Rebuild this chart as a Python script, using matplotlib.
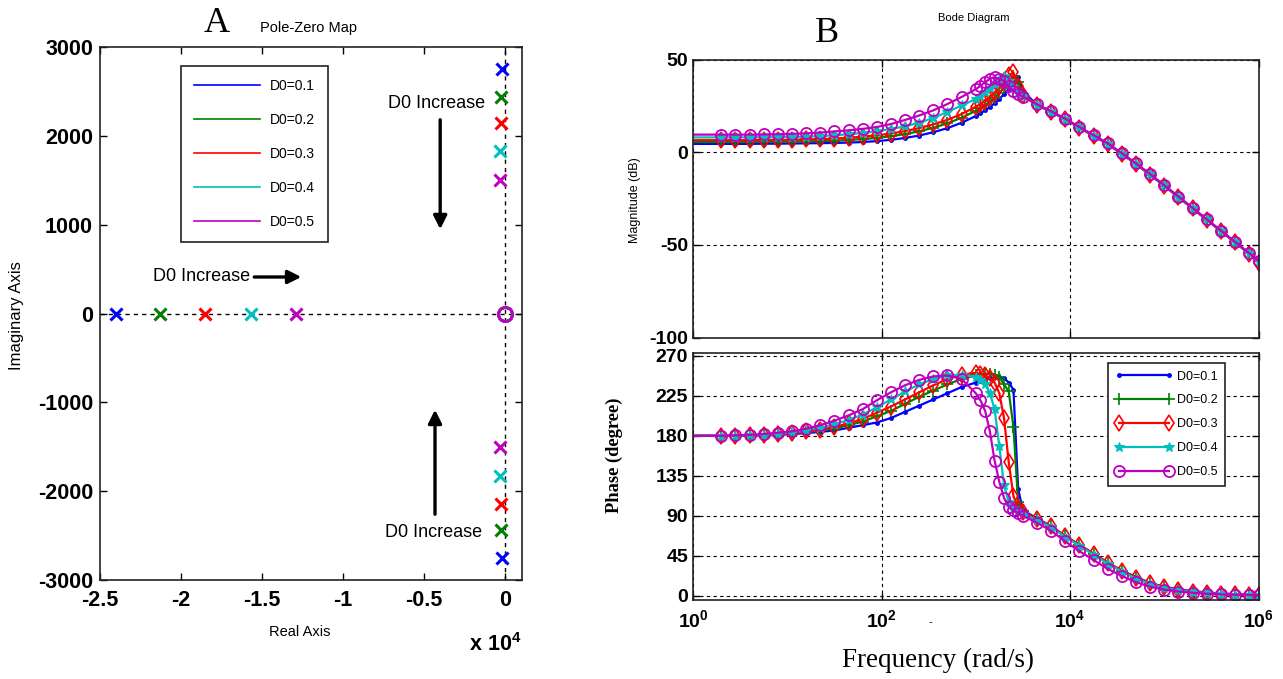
import numpy as np
import matplotlib
matplotlib.use("Agg")
import matplotlib.pyplot as plt
from matplotlib.lines import Line2D
from matplotlib.ticker import NullLocator

W, H = 1283, 679

# ---- series shared by both panels ----
d0_labels = ["D0=0.1", "D0=0.2", "D0=0.3", "D0=0.4", "D0=0.5"]
colors = ["#0000ff", "#008000", "#ff0000", "#00bfbf", "#bf00bf"]

# ---- pole-zero map (real axis in rad/s) ----
real_poles = [-24000, -21300, -18500, -15700, -12900]
cplx_re = [-200, -230, -260, -290, -320]
cplx_im = [2750, 2440, 2140, 1830, 1500]
zeros_re = [0, 0, 0, 0, 0]

# ---- bode data, frequency given as log10(w) ----
w_log = [0.0, 0.3, 0.45, 0.6, 0.75, 0.9, 1.05, 1.2, 1.35, 1.5, 1.65, 1.8, 1.95,
         2.1, 2.25, 2.4, 2.55, 2.7, 2.85,
         3.0, 3.05, 3.1, 3.15, 3.2, 3.25, 3.3, 3.35, 3.4, 3.45, 3.5,
         3.65, 3.8, 3.95, 4.1, 4.25, 4.4, 4.55, 4.7, 4.85, 5.0, 5.15, 5.3,
         5.45, 5.6, 5.75, 5.9, 6.0]

mag_01 = [4.5, 4.5, 4.5, 4.5, 4.6, 4.6, 4.7, 4.8, 4.9, 5.0, 5.2, 5.5, 6.0,
          6.7, 7.7, 9.0, 10.8, 13.0, 15.9,
          19.5, 21.0, 22.6, 24.4, 26.4, 28.7, 31.3, 34.2, 37.5, 40.5, 33.0,
          25.5, 21.8, 17.8, 13.3, 8.9, 4.5, -0.8, -6.3, -12.1, -18.0, -24.1,
          -30.2, -36.3, -42.4, -48.5, -54.6, -58.7]
mag_02 = [5.5, 5.5, 5.5, 5.5, 5.6, 5.6, 5.7, 5.8, 6.0, 6.2, 6.6, 7.1, 7.7,
          8.6, 9.8, 11.3, 13.2, 15.6, 18.6,
          22.3, 23.8, 25.5, 27.4, 29.5, 32.0, 34.8, 37.8, 41.0, 38.0, 31.5,
          25.5, 21.8, 17.8, 13.3, 8.9, 4.5, -0.8, -6.3, -12.1, -18.0, -24.1,
          -30.2, -36.3, -42.4, -48.5, -54.6, -58.7]
mag_03 = [6.5, 6.5, 6.5, 6.5, 6.6, 6.6, 6.7, 6.9, 7.1, 7.4, 7.8, 8.4, 9.1,
          10.1, 11.4, 13.0, 15.0, 17.5, 20.6,
          24.5, 26.0, 27.8, 29.8, 32.2, 35.0, 38.2, 41.5, 43.0, 35.5, 31.0,
          25.4, 21.7, 17.7, 13.2, 8.8, 4.4, -0.9, -6.4, -12.2, -18.1, -24.2,
          -30.3, -36.4, -42.5, -48.6, -54.7, -59.5]
mag_04 = [8.0, 8.0, 8.0, 8.0, 8.0, 8.1, 8.2, 8.4, 8.7, 9.1, 9.7, 10.4, 11.3,
          12.5, 14.0, 15.9, 18.5, 21.8, 25.2,
          28.7, 30.3, 32.3, 34.5, 37.0, 39.5, 41.0, 38.5, 35.0, 32.0, 30.5,
          25.6, 21.9, 17.9, 13.4, 9.0, 4.6, -0.7, -6.2, -12.0, -17.9, -24.0,
          -30.1, -36.2, -42.3, -48.4, -54.5, -58.6]
mag_05 = [9.5, 9.5, 9.5, 9.5, 9.6, 9.7, 9.9, 10.2, 10.6, 11.2, 11.8, 12.6, 13.6,
          15.2, 17.4, 19.8, 22.6, 26.0, 29.8,
          34.0, 35.8, 37.8, 39.5, 40.5, 39.5, 38.5, 35.5, 32.8, 31.3, 30.0,
          25.8, 22.1, 18.1, 13.6, 9.2, 4.8, -0.5, -6.0, -11.8, -17.8, -23.9,
          -30.0, -36.1, -42.2, -48.3, -54.4, -58.5]

ph_01 = [180, 180, 180, 180, 180.5, 181, 182, 183, 184.5, 186, 189, 192, 195,
         200, 207, 214, 221, 228, 235,
         240, 242, 244, 245, 246, 246, 245, 240, 232, 120, 96,
         87, 78, 67, 57, 47, 37, 28, 21, 14, 10, 7, 5, 3.5, 2.3, 1.5, 1.0, 0.8]
ph_02 = [180, 180, 180, 180, 180.5, 181, 182.5, 184, 186, 188, 192, 196, 202,
         208, 216, 224, 231, 238, 244,
         248, 249, 250, 250, 249, 246, 238, 230, 190, 105, 95,
         86, 78, 67, 57, 47, 37, 28, 20, 14, 9.5, 6.5, 4.5, 3.0, 2.0, 1.3, 0.9, 0.7]
ph_03 = [180, 180, 180, 180.5, 181, 181.5, 183, 185, 187, 190, 194, 199, 206,
         213, 221, 229, 237, 244, 249,
         251, 250, 248, 245, 240, 228, 200, 150, 112, 99, 94,
         86, 78, 67, 57, 47, 37, 28, 20, 14, 9.5, 6.5, 4.5, 3.0, 2.0, 1.3, 0.9, 0.7]
ph_04 = [180, 180, 180, 180.5, 181, 182, 184, 186, 189, 193, 198, 204, 212,
         221, 230, 238, 244, 248, 249,
         246, 243, 238, 228, 210, 168, 125, 105, 98, 95, 92,
         85, 77, 66, 56, 46, 36, 27, 19, 13, 9.0, 6.0, 4.0, 2.5, 1.7, 1.1, 0.8, 0.6]
ph_05 = [180, 180, 180.5, 181, 182, 183.5, 185, 188, 192, 197, 203, 210, 220,
         229, 237, 243, 247, 248, 244,
         228, 220, 208, 185, 152, 128, 110, 100, 96, 93, 90,
         82, 73, 61, 50, 40, 30, 22, 15, 10, 6.5, 4.5, 3.0, 2.0, 1.3, 0.9, 0.6, 0.5]

mags = [mag_01, mag_02, mag_03, mag_04, mag_05]
phases = [ph_01, ph_02, ph_03, ph_04, ph_05]
freq = 10.0 ** np.array(w_log)

plt.rcParams["font.family"] = ["Liberation Sans", "DejaVu Sans"]
plt.rcParams["mathtext.fontset"] = "custom"
plt.rcParams["mathtext.rm"] = "Liberation Sans:bold"
plt.rcParams["mathtext.bf"] = "Liberation Sans:bold"
plt.rcParams["mathtext.it"] = "Liberation Sans:bold"

SERIF = ["Liberation Serif", "DejaVu Serif"]
GRID = dict(color="k", ls=(0, (3, 3)), lw=0.8)

fig = plt.figure(figsize=(W / 100, H / 100), dpi=100)


def frac(x, y):
    return x / W, 1 - y / H


def axes_px(left, top, right, bottom):
    return fig.add_axes([left / W, 1 - bottom / H,
                         (right - left) / W, (bottom - top) / H])


def style_axes(ax):
    ax.tick_params(direction="in", top=True, right=True, length=5, width=1)
    for s in ax.spines.values():
        s.set_linewidth(1.2)
        s.set_color("#222222")


# ================= A : pole-zero map =================
ax_pz = axes_px(100, 47, 522, 580)
ax_pz.axhline(0, **dict(GRID, lw=1.0))
ax_pz.axvline(0, **dict(GRID, lw=1.0))
for i, c in enumerate(colors):
    ax_pz.plot([real_poles[i], cplx_re[i], cplx_re[i]], [0, cplx_im[i], -cplx_im[i]],
               ls="none", marker="x", ms=9, mew=2.2, color=c)
for i, c in enumerate(colors):
    ax_pz.plot(zeros_re[i], 0, ls="none", marker="o", ms=10, mew=2,
               mfc="none", color=c)

ax_pz.set_xlim(-25000, 1050)
ax_pz.set_ylim(-3000, 3000)
ax_pz.set_xticks([-25000, -20000, -15000, -10000, -5000, 0],
                 ["-2.5", "-2", "-1.5", "-1", "-0.5", "0"],
                 fontsize=15.5, fontweight="bold")
ax_pz.set_yticks([-3000, -2000, -1000, 0, 1000, 2000, 3000],
                 ["-3000", "-2000", "-1000", "0", "1000", "2000", "3000"],
                 fontsize=15.5, fontweight="bold")
style_axes(ax_pz)
ax_pz.tick_params(axis="x", pad=7)
ax_pz.tick_params(axis="y", pad=5)

pz_handles = [Line2D([], [], color=c, lw=1.2) for c in colors]
leg = ax_pz.legend(pz_handles, d0_labels, loc="upper left",
                   bbox_to_anchor=(0.192, 0.964), fontsize=10,
                   handlelength=4.8, handletextpad=0.7, labelspacing=1.45,
                   borderpad=0.9, borderaxespad=0, fancybox=False,
                   edgecolor="#222222", framealpha=1)
leg.get_frame().set_linewidth(1.2)

arrow = dict(arrowstyle="-|>", lw=2.4, color="k", mutation_scale=20)
ax_pz.text(-4200, 2360, "D0 Increase", fontsize=13, ha="center", va="center")
ax_pz.annotate("", xy=(-4000, 917), xytext=(-4000, 2212), arrowprops=arrow)
ax_pz.text(-15750, 411, "D0 Increase", fontsize=13, ha="right", va="center")
ax_pz.annotate("", xy=(-12400, 411), xytext=(-15650, 411), arrowprops=arrow)
ax_pz.text(-4380, -2460, "D0 Increase", fontsize=13, ha="center", va="center")
ax_pz.annotate("", xy=(-4320, -1052), xytext=(-4320, -2291), arrowprops=arrow)

fig.text(*frac(217, 24), "A", family=SERIF, fontsize=26, ha="center", va="center")
fig.text(*frac(309, 28), "Pole-Zero Map", fontsize=10.5, ha="center", va="center")
fig.text(*frac(300, 632), "Real Axis", fontsize=10.5, ha="center", va="center")
fig.text(*frac(17, 316), "Imaginary Axis", fontsize=12, rotation=90,
         ha="center", va="center")
fig.text(*frac(495, 645), r"$\mathrm{x\ 10^{4}}$", fontsize=15.5,
         ha="center", va="center")

# ================= B : bode diagram =================
ax_mag = axes_px(693, 59.5, 1258.5, 337.7)
ax_ph = axes_px(693, 353.3, 1258.5, 599.5)

markers = [dict(marker=".", ms=5),
           dict(marker="+", ms=8, mew=1.2),
           dict(marker="d", ms=8, mfc="none", mew=1.2),
           dict(marker="*", ms=7, mew=0.8),
           dict(marker="o", ms=8, mfc="none", mew=1.3)]

ph_lines = []
for i, c in enumerate(colors):
    ax_mag.plot(freq, mags[i], color=c, lw=1.6, markevery=slice(1, None),
                **markers[i])
    ln, = ax_ph.plot(freq, phases[i], color=c, lw=1.6, markevery=slice(1, None),
                     **markers[i])
    ph_lines.append(ln)

decades = [1e0, 1e2, 1e4, 1e6]
for ax in (ax_mag, ax_ph):
    ax.set_xscale("log")
    ax.set_xlim(1, 1e6)
    ax.xaxis.set_minor_locator(NullLocator())
    ax.set_xticks(decades)
    ax.grid(True, **GRID)
    style_axes(ax)

ax_mag.set_ylim(-100, 50)
ax_mag.set_yticks([-100, -50, 0, 50], ["-100", "-50", "0", "50"],
                  fontsize=14, fontweight="bold")
ax_mag.set_xticklabels([])

ax_ph.set_ylim(-4.5, 273)
ax_ph.set_yticks([0, 45, 90, 135, 180, 225, 270],
                 ["0", "45", "90", "135", "180", "225", "270"],
                 fontsize=14, fontweight="bold")
ax_ph.set_xticklabels([r"$10^{0}$", r"$10^{2}$", r"$10^{4}$", r"$10^{6}$"],
                      fontsize=14)
ax_ph.tick_params(axis="x", pad=7)

leg_b = ax_ph.legend(ph_lines, d0_labels, loc="upper left",
                     bbox_to_anchor=(0.734, 0.9606), numpoints=2, fontsize=9,
                     handlelength=4.6, handletextpad=0.3, labelspacing=0.95,
                     borderpad=0.6, borderaxespad=0, fancybox=False,
                     edgecolor="#222222", framealpha=1)
leg_b.get_frame().set_linewidth(1.2)

fig.text(*frac(827, 34), "B", family=SERIF, fontsize=26, ha="center", va="center")
fig.text(*frac(974, 18), "Bode Diagram", fontsize=8, ha="center", va="center")
fig.text(*frac(635, 200), "Magnitude (dB)", fontsize=9, rotation=90,
         ha="center", va="center")
fig.text(*frac(614, 455), "Phase (degree)", family=SERIF, fontweight="bold",
         fontsize=13.3, rotation=90, ha="center", va="center")
fig.text(*frac(938, 660), "Frequency (rad/s)", family=SERIF, fontsize=19.5,
         ha="center", va="center")
fig.text(*frac(930, 622), "-", fontsize=8, ha="center", va="center")

fig.savefig("out.png", dpi=100)
